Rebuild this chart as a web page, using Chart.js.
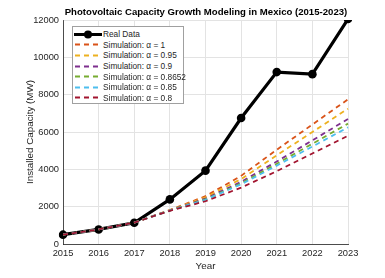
<!DOCTYPE html>
<html>
<head>
<meta charset="utf-8">
<script src="https://cdn.jsdelivr.net/npm/chart.js@4"></script>
<style>
  body { margin: 0; background: #fff; }
  #wrap { position: relative; width: 385px; height: 278px; }
  #title {
    position: absolute; left: 56px; width: 300px; top: 6px; text-align: center;
    font: bold 9.6px "Liberation Sans", Arial, sans-serif; color: #000; white-space: nowrap;
  }
  #legend {
    position: absolute; left: 72px; top: 26px; width: 112px; height: 78px;
    background: #fff; border: 1px solid #a0a0a0; box-sizing: border-box;
    font: 8.3px "Liberation Sans", Arial, sans-serif; color: #262626;
    padding-top: 2px;
  }
  .row { height: 10.6px; display: flex; align-items: center; white-space: nowrap; }
  .row svg { margin-left: 1px; margin-right: 1px; flex: none; }
</style>
</head>
<body>
<div id="wrap">
  <canvas id="pvChart" width="385" height="278"></canvas>
  <div id="title">Photovoltaic Capacity Growth Modeling in Mexico (2015-2023)</div>
  <div id="legend"></div>
</div>
<script>
const years = ['2015', '2016', '2017', '2018', '2019', '2020', '2021', '2022', '2023'];
const realData = [500, 780, 1140, 2390, 3930, 6750, 9210, 9100, 12050];

const simAlpha1 = [500, 780, 1150, 1820, 2560, 3650, 5050, 6400, 7750];
const simAlpha095 = [500, 780, 1150, 1810, 2500, 3480, 4750, 6000, 7250];
const simAlpha09 = [500, 780, 1150, 1800, 2430, 3330, 4420, 5550, 6700];
const simAlpha08652 = [500, 780, 1150, 1790, 2390, 3250, 4300, 5370, 6450];
const simAlpha085 = [500, 780, 1150, 1790, 2370, 3200, 4200, 5220, 6250];
const simAlpha08 = [500, 780, 1150, 1780, 2290, 3020, 3900, 4850, 5800];

const simLabels = ['Simulation: α = 1', 'Simulation: α = 0.95', 'Simulation: α = 0.9',
                   'Simulation: α = 0.8652', 'Simulation: α = 0.85', 'Simulation: α = 0.8'];
const simSeries = [simAlpha1, simAlpha095, simAlpha09, simAlpha08652, simAlpha085, simAlpha08];
const simColors = ['#D95319', '#EDB120', '#7E2F8E', '#77AC30', '#4DBEEE', '#A2142F'];

const fontFamily = '"Liberation Sans", Arial, sans-serif';
const textColor = '#262626';

const datasets = [{
    label: 'Real Data',
    data: realData,
    borderColor: '#000',
    backgroundColor: '#000',
    borderWidth: 3.2,
    pointRadius: 4.3,
    pointBackgroundColor: '#000',
    pointBorderWidth: 0,
    order: 7
}];
simSeries.forEach((s, i) => {
    datasets.push({
        label: simLabels[i],
        data: s,
        borderColor: simColors[i],
        borderWidth: 1.8,
        borderDash: [5, 4],
        pointRadius: 0,
        fill: false,
        order: 6 - i
    });
});

const ctx = document.getElementById('pvChart').getContext('2d');
const chart = new Chart(ctx, {
    type: 'line',
    data: { labels: years, datasets: datasets },
    options: {
        responsive: false,
        animation: false,
        layout: { padding: { left: 0, right: 37, top: 20, bottom: 0 } },
        scales: {
            x: {
                offset: false,
                grid: { color: '#e3e3e3', drawTicks: false },
                border: { color: textColor, width: 0.8 },
                ticks: { color: textColor, font: { family: fontFamily, size: 9.3 }, padding: 4, maxRotation: 0 },
                title: { display: true, text: 'Year', color: textColor,
                         font: { family: fontFamily, size: 9.8 }, padding: { top: 0, bottom: 6 } },
                afterFit: scale => { scale.height = 34; }
            },
            y: {
                min: 0,
                max: 12000,
                grid: { color: '#e3e3e3', drawTicks: false },
                border: { color: textColor, width: 0.8 },
                ticks: { stepSize: 2000, color: textColor, font: { family: fontFamily, size: 9.3 }, padding: 4,
                         callback: v => String(v) },
                title: { display: true, text: 'Installed Capacity (MW)', color: textColor,
                         font: { family: fontFamily, size: 9.8 }, padding: { top: 24, bottom: 0 } },
                afterFit: scale => { scale.width = 63; }
            }
        },
        plugins: {
            legend: { display: false },
            tooltip: { enabled: false },
            title: { display: false }
        }
    }
});

// legend built from the datasets
const legendEl = document.getElementById('legend');
chart.data.datasets.forEach(ds => {
    const row = document.createElement('div');
    row.className = 'row';
    let svg = '<svg width="28" height="9">';
    if (ds.borderDash) {
        svg += '<line x1="1" y1="4.5" x2="28" y2="4.5" stroke="' + ds.borderColor +
               '" stroke-width="1.8" stroke-dasharray="5 4"/>';
    } else {
        svg += '<line x1="0" y1="4.5" x2="28" y2="4.5" stroke="#000" stroke-width="3"/>' +
               '<circle cx="14" cy="4.5" r="4" fill="#000"/>';
    }
    svg += '</svg>';
    row.innerHTML = svg + '<span>' + ds.label + '</span>';
    legendEl.appendChild(row);
});
</script>
</body>
</html>
